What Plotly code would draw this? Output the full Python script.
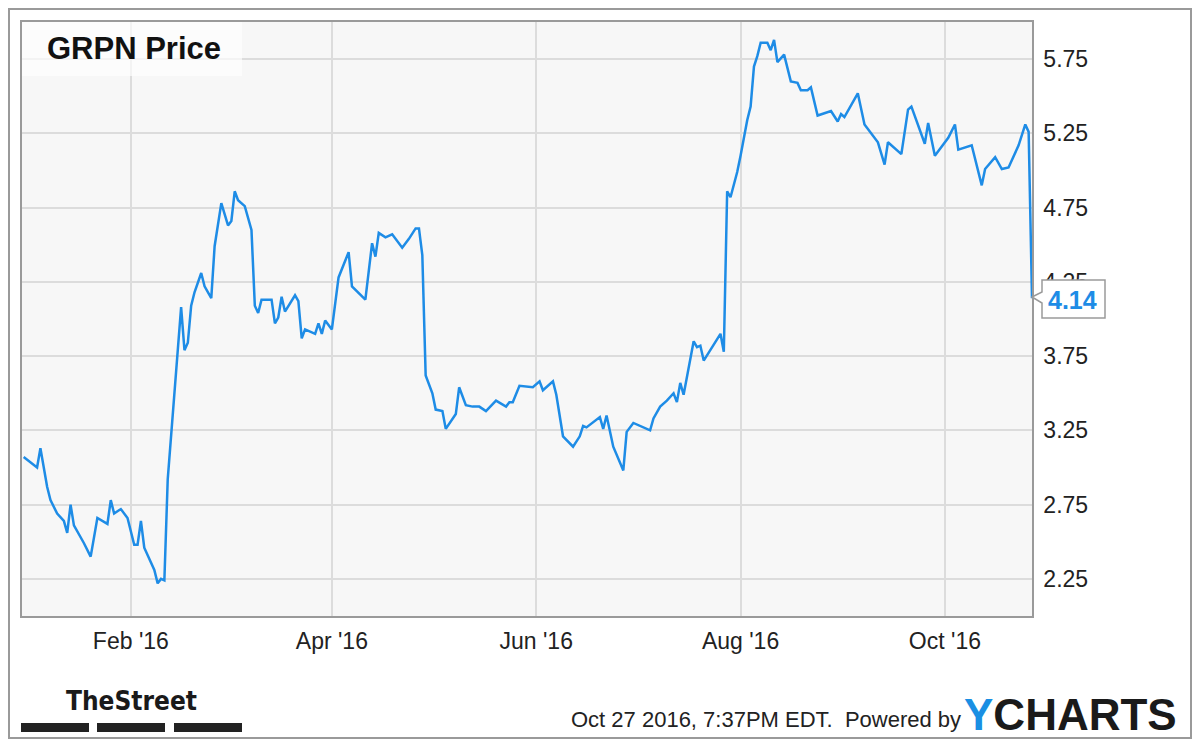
import plotly.graph_objects as go

# GRPN daily close
dates = [
    "2015-12-31", "2016-01-04", "2016-01-05", "2016-01-07", "2016-01-08", "2016-01-10",
    "2016-01-12", "2016-01-13", "2016-01-14", "2016-01-15", "2016-01-18", "2016-01-20",
    "2016-01-22", "2016-01-25", "2016-01-26", "2016-01-27", "2016-01-29", "2016-01-31",
    "2016-02-02", "2016-02-03", "2016-02-04", "2016-02-05", "2016-02-08", "2016-02-09",
    "2016-02-10", "2016-02-11", "2016-02-12", "2016-02-16", "2016-02-17", "2016-02-18",
    "2016-02-19", "2016-02-20", "2016-02-22", "2016-02-23", "2016-02-25", "2016-02-26",
    "2016-02-28", "2016-03-01", "2016-03-02", "2016-03-03", "2016-03-04", "2016-03-06",
    "2016-03-08", "2016-03-09", "2016-03-10", "2016-03-11", "2016-03-14", "2016-03-15",
    "2016-03-16", "2016-03-17", "2016-03-18", "2016-03-21", "2016-03-22", "2016-03-23",
    "2016-03-24", "2016-03-27", "2016-03-28", "2016-03-29", "2016-03-30", "2016-04-01",
    "2016-04-03", "2016-04-06", "2016-04-07", "2016-04-11", "2016-04-13", "2016-04-14",
    "2016-04-15", "2016-04-17", "2016-04-19", "2016-04-20", "2016-04-22", "2016-04-24",
    "2016-04-26", "2016-04-27", "2016-04-28", "2016-04-29", "2016-05-01", "2016-05-02",
    "2016-05-04", "2016-05-05", "2016-05-08", "2016-05-09", "2016-05-11", "2016-05-13",
    "2016-05-15", "2016-05-17", "2016-05-20", "2016-05-23", "2016-05-24", "2016-05-25",
    "2016-05-27", "2016-05-31", "2016-06-02", "2016-06-03", "2016-06-06", "2016-06-07",
    "2016-06-09", "2016-06-12", "2016-06-14", "2016-06-15", "2016-06-16", "2016-06-20",
    "2016-06-21", "2016-06-22", "2016-06-24", "2016-06-27", "2016-06-28", "2016-06-30",
    "2016-07-05", "2016-07-06", "2016-07-08", "2016-07-10", "2016-07-12", "2016-07-13",
    "2016-07-14", "2016-07-15", "2016-07-18", "2016-07-19", "2016-07-20", "2016-07-21",
    "2016-07-26", "2016-07-27", "2016-07-28", "2016-07-29", "2016-07-31", "2016-08-01",
    "2016-08-03", "2016-08-04", "2016-08-05", "2016-08-06", "2016-08-07", "2016-08-09",
    "2016-08-10", "2016-08-11", "2016-08-12", "2016-08-14", "2016-08-16", "2016-08-18",
    "2016-08-19", "2016-08-21", "2016-08-22", "2016-08-24", "2016-08-28", "2016-08-30",
    "2016-08-31", "2016-09-01", "2016-09-05", "2016-09-07", "2016-09-11", "2016-09-13",
    "2016-09-14", "2016-09-18", "2016-09-20", "2016-09-21", "2016-09-23", "2016-09-25",
    "2016-09-26", "2016-09-28", "2016-10-02", "2016-10-04", "2016-10-05", "2016-10-09",
    "2016-10-12", "2016-10-13", "2016-10-16", "2016-10-18", "2016-10-20", "2016-10-23",
    "2016-10-25", "2016-10-26", "2016-10-27",
]
prices = [
    3.07, 3.00, 3.13, 2.87, 2.78, 2.69,
    2.64, 2.56, 2.75, 2.61, 2.49, 2.40,
    2.66, 2.62, 2.78, 2.69, 2.72, 2.66,
    2.48, 2.48, 2.64, 2.46, 2.31, 2.22,
    2.25, 2.24, 2.92, 4.08, 3.79, 3.84,
    4.09, 4.18, 4.31, 4.22, 4.14, 4.49,
    4.78, 4.63, 4.66, 4.86, 4.80, 4.76,
    4.60, 4.09, 4.04, 4.13, 4.13, 3.97,
    4.01, 4.15, 4.05, 4.16, 4.12, 3.87,
    3.93, 3.90, 3.97, 3.90, 3.99, 3.93,
    4.28, 4.45, 4.22, 4.13, 4.51, 4.42,
    4.58, 4.55, 4.57, 4.54, 4.48, 4.54,
    4.61, 4.61, 4.43, 3.62, 3.50, 3.39,
    3.38, 3.26, 3.36, 3.54, 3.42, 3.41,
    3.41, 3.38, 3.45, 3.41, 3.44, 3.44,
    3.55, 3.54, 3.58, 3.52, 3.58, 3.49,
    3.21, 3.14, 3.21, 3.28, 3.27, 3.34,
    3.26, 3.35, 3.14, 2.98, 3.24, 3.30,
    3.25, 3.33, 3.41, 3.45, 3.50, 3.44,
    3.57, 3.49, 3.85, 3.81, 3.82, 3.72,
    3.90, 3.78, 4.86, 4.82, 4.99, 5.10,
    5.34, 5.43, 5.70, 5.77, 5.86, 5.86,
    5.81, 5.88, 5.73, 5.78, 5.60, 5.59,
    5.54, 5.54, 5.56, 5.37, 5.40, 5.33,
    5.38, 5.36, 5.52, 5.31, 5.19, 5.04,
    5.19, 5.11, 5.41, 5.43, 5.30, 5.18,
    5.32, 5.10, 5.22, 5.31, 5.14, 5.17,
    4.90, 5.01, 5.09, 5.01, 5.02, 5.17,
    5.31, 5.26, 4.14,
]

tick_dates = ["2016-02-01", "2016-04-01", "2016-06-01", "2016-08-01", "2016-10-01"]
tick_labels = ["Feb '16", "Apr '16", "Jun '16", "Aug '16", "Oct '16"]
price_ticks = [2.25, 2.75, 3.25, 3.75, 4.25, 4.75, 5.25, 5.75]

LINE_BLUE = '#1E8CE6'
FONT = 'Liberation Sans, Arial, sans-serif'
NARROW = ('Liberation Sans Narrow, Arial Narrow, DejaVu Sans Condensed, '
          'Roboto Condensed, Noto Sans Condensed, Liberation Sans, sans-serif')

# the page body has an 8px margin, so the figure starts at (8, 8)
OFF = 8
FW, FH = 1200 - 2 * OFF, 747 - 2 * OFF
# plot area in page pixels (for placing decorations)
L, T, W, H = 22, 22, 1010, 594


def px(x):
    return (x - L) / W


def py(y):
    return (T + H - y) / H


fig = go.Figure()
fig.add_trace(go.Scatter(
    x=dates, y=prices, mode='lines',
    line=dict(color=LINE_BLUE, width=2.5),
    hoverinfo='skip'
))

shapes = [
    # outer frame
    dict(type='rect', xref='paper', yref='paper', x0=px(OFF + 1), x1=px(OFF + FW - 1),
         y0=py(OFF + FH - 1), y1=py(OFF + 1),
         line=dict(color='#9a9a9a', width=2), fillcolor='rgba(0,0,0,0)', layer='above'),
    # title backdrop
    dict(type='rect', xref='paper', yref='paper', x0=px(22), x1=px(242), y0=py(76), y1=py(22),
         line=dict(width=0), fillcolor='rgba(255,255,255,0.65)', layer='above'),
    # last value callout
    dict(type='path', xref='paper', yref='paper', layer='above',
         path=(f"M {px(1032)},{py(297)} L {px(1042)},{py(292)} L {px(1042)},{py(280)} "
               f"L {px(1105)},{py(280)} L {px(1105)},{py(318)} L {px(1042)},{py(318)} "
               f"L {px(1042)},{py(303)} Z"),
         line=dict(color='#9a9a9a', width=1.5), fillcolor='white'),
]
# TheStreet underline bars
for x0, x1 in [(21, 89), (97, 165), (174, 242)]:
    shapes.append(dict(type='rect', xref='paper', yref='paper', x0=px(x0), x1=px(x1),
                       y0=py(732), y1=py(723), line=dict(width=0), fillcolor='#222222'))

annotations = [
    dict(text='<b>GRPN Price</b>', xref='paper', yref='paper', x=px(45), y=py(48),
         xanchor='left', yanchor='middle', showarrow=False,
         font=dict(family=FONT, size=31, color='#111111')),
    dict(text=f'<b>{prices[-1]:.2f}</b>', xref='paper', yref='paper', x=px(1072), y=py(300),
         xanchor='center', yanchor='middle', showarrow=False,
         font=dict(family=FONT, size=25, color=LINE_BLUE)),
    dict(text='<b>TheStreet</b>', xref='paper', yref='paper', x=px(131), y=py(701),
         xanchor='center', yanchor='middle', showarrow=False,
         font=dict(family=NARROW, size=26, color='#1a1a1a')),
    dict(text='Oct 27 2016, 7:37PM EDT.  Powered by', xref='paper', yref='paper', x=px(963), y=py(719),
         xanchor='right', yanchor='middle', showarrow=False,
         font=dict(family=FONT, size=22, color='#222222')),
    dict(text="<b><span style='color:#1A8FE3'>Y</span>CHARTS</b>", xref='paper', yref='paper',
         x=px(962), y=py(714), xanchor='left', yanchor='middle', showarrow=False,
         font=dict(family=FONT, size=44, color='#1a1a1a')),
]

fig.update_layout(
    width=FW, height=FH,
    margin=dict(l=L - OFF, r=FW - (L - OFF) - W, t=T - OFF, b=FH - (T - OFF) - H),
    paper_bgcolor='white',
    plot_bgcolor='#F7F7F7',
    showlegend=False,
    hovermode=False,
    font=dict(family=FONT, size=23, color='#222222'),
    xaxis=dict(
        type='date',
        range=['2015-12-30 12:00', '2016-10-27'],
        tickvals=tick_dates, ticktext=tick_labels,
        showgrid=True, gridcolor='#DCDCDC', gridwidth=1.5,
        showline=True, mirror=True, linecolor='#9a9a9a', linewidth=1.5,
        ticks='', ticklabelstandoff=4,
        zeroline=False
    ),
    yaxis=dict(
        side='right',
        range=[2.0, 6.0],
        tickvals=price_ticks, tickformat='.2f',
        showgrid=True, gridcolor='#DCDCDC', gridwidth=1.5,
        showline=True, mirror=True, linecolor='#9a9a9a', linewidth=1.5,
        ticks='', ticklabelstandoff=5,
        zeroline=False
    ),
    shapes=shapes,
    annotations=annotations,
)

fig.write_html("out.html")
